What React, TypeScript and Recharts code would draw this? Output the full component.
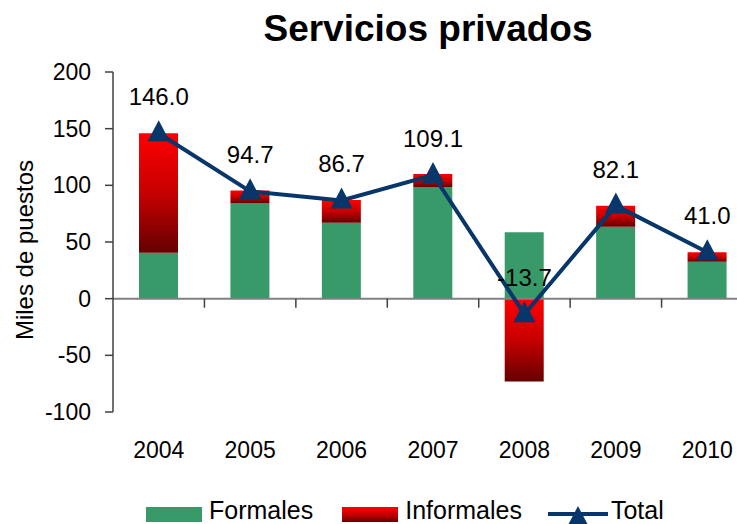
import React from 'react';
import { ComposedChart, Bar, Line, XAxis, YAxis, ReferenceLine, LabelList } from 'recharts';

const years = ['2004', '2005', '2006', '2007', '2008', '2009', '2010'];
const formales = [40.5, 84.5, 67, 98.5, 58.5, 63.5, 32.5];
const informales = [105.5, 11, 20, 11.5, -73, 18.5, 8.5];
const totals = [146.0, 94.7, 86.7, 109.1, -13.7, 82.1, 41.0];
const yTicks = [-100, -50, 0, 50, 100, 150, 200];
const boundaries = [1, 2, 3, 4, 5, 6, 7];

const data = years.map((year, i) => ({
  pos: i + 0.5,
  year,
  formales: formales[i],
  informales: informales[i],
  total: totals[i],
}));

const FONT = '"Liberation Sans", Arial, sans-serif';
const GREEN = '#389A69';
const NAVY = '#06366A';

const Tri = (props: any) => {
  const { cx, cy } = props;
  if (cx == null || cy == null) return null;
  return <path d={`M${cx},${cy - 13} L${cx + 11},${cy + 8} L${cx - 11},${cy + 8} Z`} fill={NAVY} />;
};

const YLabel = (props: any) => {
  const vb = props.viewBox || { x: 0, y: 72, width: 113, height: 340 };
  const x = vb.x + 33;
  const y = vb.y + vb.height / 2 + 8;
  return (
    <text x={x} y={y} transform={`rotate(-90, ${x}, ${y})`} textAnchor="middle" fontSize={24} fontFamily={FONT} fill="#000">
      Miles de puestos
    </text>
  );
};

export default function App() {
  return (
    <div style={{ position: 'absolute', left: 0, top: 0, width: 737, height: 524, overflow: 'hidden', background: '#fff', fontFamily: FONT }}>
      <div style={{ position: 'absolute', left: 120, width: 616, top: 10, textAlign: 'center', fontSize: 37, lineHeight: '37px', fontWeight: 'bold', color: '#000' }}>
        Servicios privados
      </div>
      <ComposedChart
        width={760}
        height={524}
        data={data}
        stackOffset="sign"
        margin={{ top: 72, right: 7, left: 0, bottom: 72 }}
      >
        <defs>
          <linearGradient id="redGrad" x1="0" y1="0" x2="0" y2="1">
            <stop offset="0%" stopColor="#FF0000" />
            <stop offset="50%" stopColor="#C60000" />
            <stop offset="100%" stopColor="#660000" />
          </linearGradient>
        </defs>
        <XAxis
          type="number"
          dataKey="pos"
          domain={[0, 7]}
          ticks={data.map((d) => d.pos)}
          tickFormatter={(v: number) => years[Math.floor(v)]}
          axisLine={false}
          tickLine={false}
          tickSize={0}
          tickMargin={30}
          height={40}
          interval={0}
          allowDecimals
          tick={{ fontSize: 23, fill: '#000', fontFamily: FONT }}
        />
        <YAxis
          type="number"
          domain={[-100, 200]}
          ticks={yTicks}
          interval={0}
          width={113}
          tickSize={8}
          tickMargin={14}
          axisLine={{ stroke: '#404040', strokeWidth: 1.5 }}
          tickLine={{ stroke: '#404040', strokeWidth: 1.5 }}
          tick={{ fontSize: 23, fill: '#000', fontFamily: FONT }}
          label={<YLabel />}
        />
        <ReferenceLine y={0} stroke="#808080" strokeWidth={2} />
        {boundaries.map((b) => (
          <ReferenceLine
            key={b}
            segment={[{ x: b, y: 0 }, { x: b, y: -8 }]}
            stroke="#404040"
            strokeWidth={1.5}
            ifOverflow="visible"
          />
        ))}
        <Bar dataKey="formales" stackId="a" fill={GREEN} barSize={39} isAnimationActive={false} />
        <Bar dataKey="informales" stackId="a" fill="url(#redGrad)" barSize={39} isAnimationActive={false} />
        <Line
          dataKey="total"
          stroke={NAVY}
          strokeWidth={4}
          dot={<Tri />}
          activeDot={false}
          isAnimationActive={false}
        >
          <LabelList
            dataKey="total"
            position="top"
            offset={28}
            fontSize={24}
            fill="#000"
            fontFamily={FONT}
            formatter={(v: any) => Number(v).toFixed(1)}
          />
        </Line>
      </ComposedChart>
      <div style={{ position: 'absolute', left: 146, top: 496, height: 28, display: 'flex', alignItems: 'flex-start', fontSize: 25, lineHeight: '28px', color: '#000', whiteSpace: 'nowrap' }}>
        <div style={{ width: 56, height: 15, marginTop: 11, background: GREEN, marginRight: 7 }} />
        <span style={{ marginRight: 29 }}>Formales</span>
        <div style={{ width: 56, height: 15, marginTop: 11, background: 'linear-gradient(#FF0000, #C60000 50%, #660000)', marginRight: 7 }} />
        <span style={{ marginRight: 26 }}>Informales</span>
        <svg width={60} height={28} style={{ marginRight: 3 }}>
          <line x1={0} y1={18} x2={60} y2={18} stroke={NAVY} strokeWidth={4} />
          <path d="M30,10 L41,31 L19,31 Z" fill={NAVY} />
        </svg>
        <span>Total</span>
      </div>
    </div>
  );
}
